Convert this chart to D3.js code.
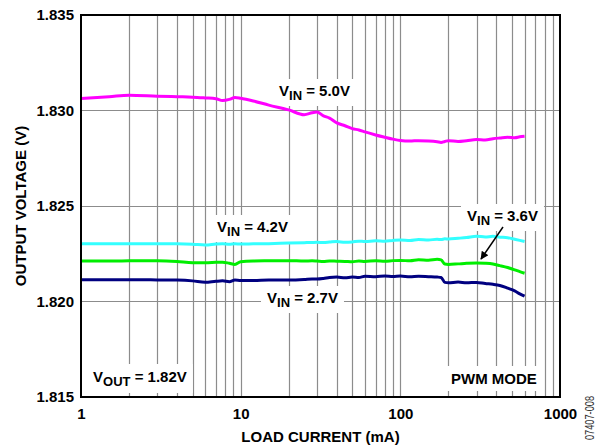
<!DOCTYPE html>
<html>
<head>
<meta charset="utf-8">
<script src="https://cdn.jsdelivr.net/npm/d3@7"></script>
<style>
  html, body { margin: 0; padding: 0; background: #fff; }
  svg { display: block; font-family: "Liberation Sans", Arial, sans-serif; }
</style>
</head>
<body>
<svg id="chart" width="608" height="448"></svg>
<script>
// ---------- data ----------
const loadCurrent = [1,1.5,2,3,4,5,6,7,7.7,8.5,9.2,10,12,15,20,25,28,30,33,36,40,45,50,55,60,70,80,90,100,115,130,150,170,180,190,200,230,260,300,340,380,420,470,520,560,600];

const vin50 = [1.83063,1.83072,1.83080,1.83075,1.83072,1.83070,1.83066,1.83062,1.83052,1.83058,1.83068,1.83064,1.83050,1.83028,1.83003,1.82978,1.82988,1.82992,1.82972,1.82960,1.82935,1.82920,1.82905,1.82898,1.82888,1.82872,1.82860,1.82850,1.82843,1.82840,1.82842,1.82840,1.82836,1.82833,1.82838,1.82842,1.82838,1.82842,1.82848,1.82846,1.82852,1.82856,1.82860,1.82857,1.82862,1.82865];

const vin42 = [1.82303,1.82303,1.82303,1.82302,1.82302,1.82300,1.82296,1.82301,1.82303,1.82300,1.82302,1.82301,1.82302,1.82303,1.82306,1.82308,1.82309,1.82310,1.82309,1.82311,1.82314,1.82310,1.82312,1.82316,1.82314,1.82318,1.82316,1.82320,1.82322,1.82319,1.82324,1.82322,1.82326,1.82324,1.82328,1.82327,1.82331,1.82335,1.82342,1.82338,1.82341,1.82337,1.82334,1.82326,1.82320,1.82314];

const vin36 = [1.82212,1.82212,1.82213,1.82214,1.82210,1.82203,1.82203,1.82205,1.82206,1.82200,1.82194,1.82208,1.82212,1.82213,1.82214,1.82212,1.82213,1.82212,1.82210,1.82212,1.82211,1.82210,1.82208,1.82212,1.82210,1.82213,1.82211,1.82214,1.82215,1.82213,1.82218,1.82216,1.82221,1.82218,1.82196,1.82194,1.82197,1.82200,1.82202,1.82200,1.82196,1.82188,1.82178,1.82166,1.82156,1.82148];

const vin27 = [1.82114,1.82114,1.82114,1.82113,1.82112,1.82108,1.82101,1.82106,1.82108,1.82104,1.82112,1.82110,1.82110,1.82112,1.82112,1.82115,1.82118,1.82118,1.82121,1.82126,1.82128,1.82124,1.82128,1.82126,1.82132,1.82130,1.82134,1.82131,1.82133,1.82130,1.82132,1.82130,1.82128,1.82126,1.82100,1.82098,1.82102,1.82098,1.82100,1.82094,1.82090,1.82084,1.82070,1.82056,1.82040,1.82028];

const seriesNames = ["5.0V", "4.2V", "3.6V", "2.7V"];
const seriesColors = ["#ff00ff", "#33ffff", "#00ee00", "#000080"];

const yTicks = [1.815, 1.820, 1.825, 1.830, 1.835];
const xTickLabels = [1, 10, 100, 1000];

// ---------- layout ----------
const svg = d3.select("#chart");
const L = 81, R = 560, T = 15, B = 397;
const x = d3.scaleLog().domain([1, 1000]).range([L, R]);
const y = d3.scaleLinear().domain([1.815, 1.835]).range([B, T]);

// grid
const grid = svg.append("g").attr("stroke", "#8c8c8c").attr("stroke-width", 1.2);
grid.selectAll("line.v").data(x.ticks().filter(d => d > 1 && d < 1000))
  .join("line").attr("class", "v")
  .attr("x1", d => Math.round(x(d)) + 0.5).attr("x2", d => Math.round(x(d)) + 0.5)
  .attr("y1", T).attr("y2", B);
grid.selectAll("line.h").data(yTicks.slice(1, -1))
  .join("line").attr("class", "h")
  .attr("x1", L).attr("x2", R)
  .attr("y1", d => Math.round(y(d)) + 0.5).attr("y2", d => Math.round(y(d)) + 0.5);

// label boxes layer (drawn above grid, below lines)
const boxLayer = svg.append("g");

// series lines
const allSeries = [vin50, vin42, vin36, vin27];
const line = d3.line().x((d, i) => x(loadCurrent[i])).y(d => y(d)).curve(d3.curveMonotoneX);
allSeries.forEach((vals, k) => {
  svg.append("path").datum(vals)
    .attr("fill", "none").attr("stroke", seriesColors[k])
    .attr("stroke-width", 3).attr("stroke-linejoin", "round")
    .attr("d", line);
});

// frame
svg.append("rect").attr("x", L).attr("y", T).attr("width", R - L).attr("height", B - T)
  .attr("fill", "none").attr("stroke", "#000").attr("stroke-width", 2);

// axes
const yAxis = d3.axisLeft(y).tickValues(yTicks).tickFormat(d3.format(".3f")).tickSize(0).tickPadding(7);
const gy = svg.append("g").attr("transform", `translate(${L},0)`).call(yAxis);
gy.select(".domain").remove();
gy.selectAll("text").attr("font-size", 15).attr("font-weight", "bold").attr("fill", "#000")
  .attr("font-family", "Liberation Sans, Arial, sans-serif");

const xAxis = d3.axisBottom(x).tickValues(xTickLabels).tickFormat(d3.format("d")).tickSize(0).tickPadding(11);
const gx = svg.append("g").attr("transform", `translate(0,${B})`).call(xAxis);
gx.select(".domain").remove();
gx.selectAll("text").attr("font-size", 15).attr("font-weight", "bold").attr("fill", "#000")
  .attr("font-family", "Liberation Sans, Arial, sans-serif");

// axis titles
svg.append("text").attr("x", (L + R) / 2).attr("y", 442).attr("text-anchor", "middle")
  .attr("font-size", 15).attr("font-weight", "bold").text("LOAD CURRENT (mA)");
svg.append("text").attr("transform", `translate(26,${(T + B) / 2}) rotate(-90)`).attr("text-anchor", "middle")
  .attr("font-size", 15).attr("font-weight", "bold").text("OUTPUT VOLTAGE (V)");

// labels with subscripts
function subLabel(xp, yp, sub, rest) {
  const t = svg.append("text").attr("x", xp).attr("y", yp)
    .attr("font-size", 15).attr("font-weight", "bold").attr("fill", "#000");
  t.append("tspan").text("V");
  t.append("tspan").attr("font-size", 13).attr("dy", 4).text(sub);
  t.append("tspan").attr("dy", -4).text(rest);
  return t;
}
function addBox(t, padX, padY) {
  const b = t.node().getBBox();
  boxLayer.append("rect").attr("x", b.x - padX).attr("y", b.y - padY)
    .attr("width", b.width + 2 * padX).attr("height", b.height + 2 * padY).attr("fill", "#fff");
}
const labelPos = [[279, 96], [217, 232], [467, 221], [267, 303]];
seriesNames.forEach((n, k) => {
  const t = subLabel(labelPos[k][0], labelPos[k][1], "IN", " = " + n);
  addBox(t, 6, 3);
});
const tOut = subLabel(93, 382, "OUT", " = 1.82V");
addBox(tOut, 6, 4);
const tPwm = svg.append("text").attr("x", 451).attr("y", 384)
  .attr("font-size", 15).attr("font-weight", "bold").text("PWM MODE");
addBox(tPwm, 6, 4);

// arrow for 3.6V
const defs = svg.append("defs");
defs.append("marker").attr("id", "ah").attr("viewBox", "0 0 10 10").attr("refX", 9).attr("refY", 5)
  .attr("markerWidth", 10).attr("markerHeight", 8).attr("markerUnits", "userSpaceOnUse").attr("orient", "auto")
  .append("path").attr("d", "M0,0 L10,5 L0,10 Z").attr("fill", "#000");
svg.append("line").attr("x1", 503).attr("y1", 227).attr("x2", 481).attr("y2", 259)
  .attr("stroke", "#000").attr("stroke-width", 1.5).attr("marker-end", "url(#ah)");

// figure id
svg.append("text").attr("transform", "translate(594,418) rotate(-90)").attr("text-anchor", "middle")
  .attr("font-size", 13).attr("fill", "#333").attr("textLength", 44).attr("lengthAdjust", "spacingAndGlyphs")
  .text("07407-008");
</script>
</body>
</html>
